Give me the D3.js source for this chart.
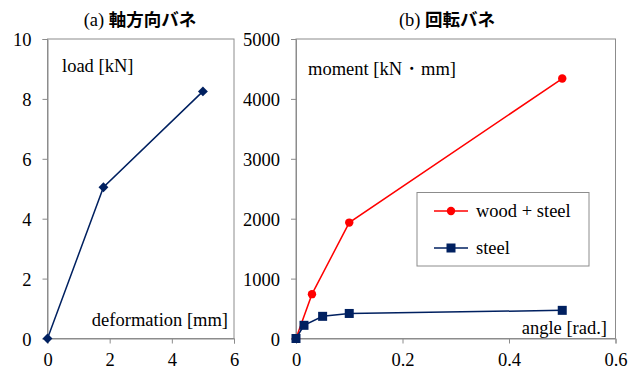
<!DOCTYPE html>
<html><head><meta charset="utf-8">
<script src="https://cdn.jsdelivr.net/npm/d3@7"></script>
<style>body{margin:0;background:#fff}svg{display:block}</style>
</head><body>
<script>
// ---- data ----
const axialDeformation = [0, 1.8, 5.0];
const axialLoad = [0, 5.05, 8.25];
const woodSteelAngle = [0, 0.03, 0.1, 0.5];
const woodSteelMoment = [0, 740, 1935, 4340];
const steelAngle = [0, 0.015, 0.05, 0.1, 0.5];
const steelMoment = [0, 220, 370, 418, 470];
const leftXTicks = [0, 2, 4, 6];
const leftYTicks = [0, 2, 4, 6, 8, 10];
const rightXTicks = [0, 0.2, 0.4, 0.6];
const rightYTicks = [0, 1000, 2000, 3000, 4000, 5000];
const seriesNames = ["wood + steel", "steel"];

const W = 640, H = 369;
const SERIF = '"Liberation Serif"';
const CJK = '"Noto Sans CJK JP"';
const FS = "18.5px";
const frameColor = "#8c8c8c";
const navy = "#002060", red = "#ff0000";

const svg = d3.select("body").append("svg").attr("width", W).attr("height", H)
  .style("font-family", SERIF).style("font-size", FS);

function serifText(sel, anchor) {
  return sel.attr("text-anchor", anchor).attr("font-family", "Liberation Serif")
    .style("font-family", SERIF).style("font-size", FS).attr("fill", "#000");
}

function panel(opts) {
  const g = svg.append("g");
  const x = d3.scaleLinear().domain(opts.xd).range([opts.x0, opts.x1]);
  const y = d3.scaleLinear().domain(opts.yd).range([opts.y1, opts.y0]);
  g.append("rect").attr("x", opts.x0).attr("y", opts.y0)
    .attr("width", opts.x1 - opts.x0).attr("height", opts.y1 - opts.y0)
    .attr("fill", "none").attr("stroke", frameColor).attr("stroke-width", 1);
  const xa = g.append("g").attr("transform", `translate(0,${opts.y1})`)
    .call(d3.axisBottom(x).tickValues(opts.xt).tickSize(5).tickPadding(3).tickFormat(opts.xf));
  const ya = g.append("g").attr("transform", `translate(${opts.x0},0)`)
    .call(d3.axisLeft(y).tickValues(opts.yt).tickSize(5).tickPadding(11).tickFormat(d3.format("d")));
  [xa, ya].forEach(a => {
    a.attr("font-family", null).attr("font-size", null);
    a.select(".domain").attr("stroke", frameColor);
    a.selectAll(".tick line").attr("stroke", frameColor);
  });
  serifText(xa.selectAll("text").attr("dy", null).attr("y", 27), "middle");
  serifText(ya.selectAll("text").attr("dy", null).attr("y", 6.5), "end");
  return {g, x, y};
}

function label(x, y, txt, anchor) {
  serifText(svg.append("text").attr("x", x).attr("y", y), anchor || "start").text(txt);
}
function title(x, prefix, jp) {
  const t = svg.append("text").attr("x", x).attr("y", 26).attr("text-anchor", "middle");
  t.append("tspan").style("font-family", SERIF).style("font-size", FS).text(prefix);
  t.append("tspan").style("font-family", CJK).style("font-weight", "bold").style("font-size", "17.5px").text(jp);
}

// ---- panel (a) ----
const A = panel({x0: 47.5, x1: 234, y0: 39, y1: 338.5, xd: [0, 6], yd: [0, 10],
  xt: leftXTicks, yt: leftYTicks, xf: d3.format("d")});
const ad = axialDeformation.map((d, i) => [d, axialLoad[i]]);
A.g.append("path").datum(ad)
  .attr("fill", "none").attr("stroke", navy).attr("stroke-width", 1.5)
  .attr("d", d3.line().x(d => A.x(d[0])).y(d => A.y(d[1])));
A.g.selectAll(".dia").data(ad).enter()
  .append("rect").attr("x", -3.5).attr("y", -3.5).attr("width", 7).attr("height", 7)
  .attr("transform", d => `translate(${A.x(d[0])},${A.y(d[1])}) rotate(45)`).attr("fill", navy);
title(140, "(a) ", "軸方向バネ");
label(62, 72, "load [kN]");
label(228, 326, "deformation [mm]", "end");

// ---- panel (b) ----
const B = panel({x0: 296, x1: 615.5, y0: 39, y1: 338.5, xd: [0, 0.6], yd: [0, 5000],
  xt: rightXTicks, yt: rightYTicks, xf: d => d === 0 ? "0" : d3.format(".1f")(d)});
const line = d3.line().x(d => B.x(d[0])).y(d => B.y(d[1]));
const ws = woodSteelAngle.map((d, i) => [d, woodSteelMoment[i]]);
const st = steelAngle.map((d, i) => [d, steelMoment[i]]);
B.g.append("path").datum(ws).attr("fill", "none").attr("stroke", red).attr("stroke-width", 1.5).attr("d", line);
B.g.selectAll(".c").data(ws).enter().append("circle")
  .attr("cx", d => B.x(d[0])).attr("cy", d => B.y(d[1])).attr("r", 4.2).attr("fill", red);
B.g.append("path").datum(st).attr("fill", "none").attr("stroke", navy).attr("stroke-width", 1.5).attr("d", line);
B.g.selectAll(".s").data(st).enter().append("rect")
  .attr("x", d => B.x(d[0]) - 4.5).attr("y", d => B.y(d[1]) - 4.5).attr("width", 9).attr("height", 9).attr("fill", navy);

title(447, "(b) ", "回転バネ");
label(308, 75, "moment [kN・mm]");
label(607, 334, "angle [rad.]", "end");

// legend
const lg = svg.append("g");
lg.append("rect").attr("x", 417).attr("y", 192.5).attr("width", 172).attr("height", 73.5)
  .attr("fill", "#fff").attr("stroke", frameColor);
const legY = [211, 248];
const legColors = [red, navy];
seriesNames.forEach((n, i) => {
  lg.append("line").attr("x1", 434).attr("x2", 468).attr("y1", legY[i]).attr("y2", legY[i])
    .attr("stroke", legColors[i]).attr("stroke-width", 1.5);
  if (i === 0) lg.append("circle").attr("cx", 451).attr("cy", legY[i]).attr("r", 4.2).attr("fill", red);
  else lg.append("rect").attr("x", 446.5).attr("y", legY[i] - 4.5).attr("width", 9).attr("height", 9).attr("fill", navy);
  label(476, legY[i] + 6, n, "start");
});
</script>
</body></html>
